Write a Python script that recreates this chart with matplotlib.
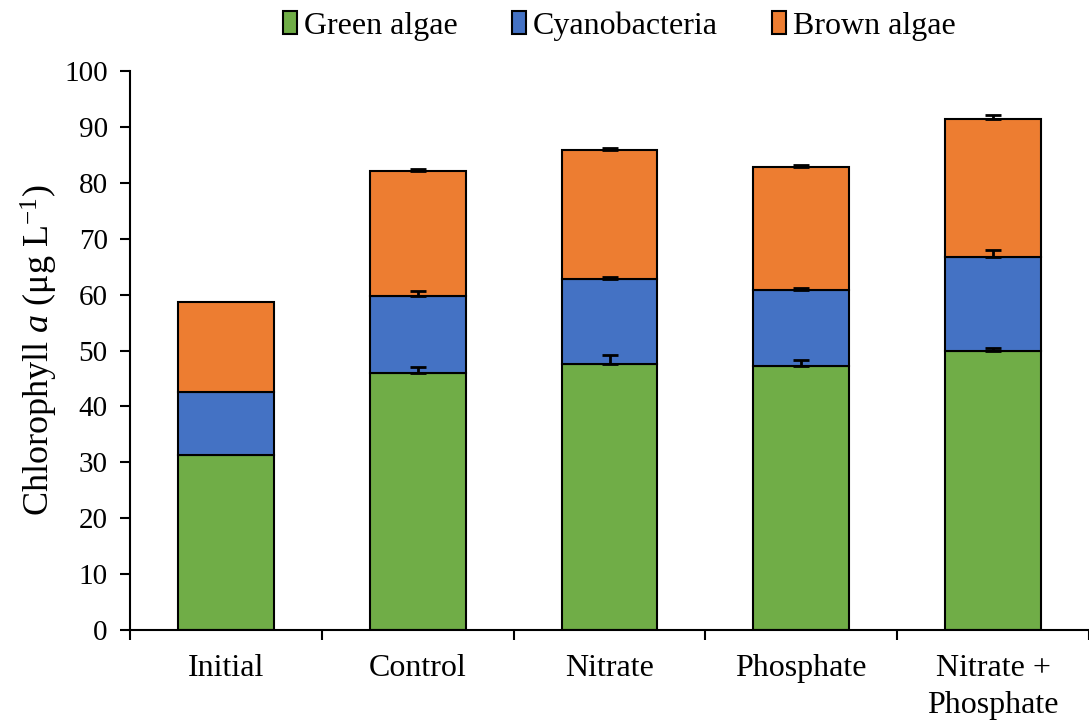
import numpy as np
import matplotlib
matplotlib.use("Agg")
import matplotlib.pyplot as plt
from matplotlib.ticker import FixedLocator

plt.rcParams['font.family'] = ['Liberation Serif', 'DejaVu Serif']
plt.rcParams['mathtext.fontset'] = 'custom'
plt.rcParams['mathtext.rm'] = 'Liberation Serif'
plt.rcParams['mathtext.it'] = 'Liberation Serif:italic'

# datos
categorias = ['Initial', 'Control', 'Nitrate', 'Phosphate', 'Nitrate +\nPhosphate']
green = [31.3, 46.0, 47.5, 47.2, 50.0]
cyano = [11.3, 13.8, 15.3, 13.7, 16.8]
brown = [16.1, 22.3, 23.0, 21.9, 24.7]
err_green = [0.0, 1.0, 1.7, 1.1, 0.4]
err_cyano = [0.0, 0.8, 0.4, 0.3, 1.2]
err_brown = [0.0, 0.3, 0.4, 0.3, 0.7]

col_green = '#70AD47'
col_cyano = '#4472C4'
col_brown = '#ED7D31'

x = np.arange(len(categorias))
w = 0.5
green = np.array(green)
cyano = np.array(cyano)
brown = np.array(brown)

fig = plt.figure(figsize=(10.89, 7.23), dpi=100)
ax = fig.add_axes([0.1194, 0.1286, 0.8806, 0.7732])

ax.bar(x, green, w, color=col_green, edgecolor='black', linewidth=1.5, label='Green algae', zorder=2)
ax.bar(x, cyano, w, bottom=green, color=col_cyano, edgecolor='black', linewidth=1.5, label='Cyanobacteria', zorder=2)
ax.bar(x, brown, w, bottom=green + cyano, color=col_brown, edgecolor='black', linewidth=1.5, label='Brown algae', zorder=2)

# barras de error (solo hacia arriba)
tops = [green, green + cyano, green + cyano + brown]
errs = [err_green, err_cyano, err_brown]
for t, e in zip(tops, errs):
    e = np.array(e)
    m = e > 0
    ax.errorbar(x[m], t[m], yerr=[np.zeros(m.sum()), e[m]], fmt='none',
                ecolor='black', elinewidth=2, capsize=6, capthick=2, zorder=5)

ax.set_xlim(-0.5, 4.5)
ax.set_ylim(0, 100)
ax.set_yticks(np.arange(0, 101, 10))
ax.set_xticks(x)
ax.set_xticklabels(categorias, linespacing=1.4)
ax.xaxis.set_minor_locator(FixedLocator(np.arange(-0.5, 4.6, 1)))
ax.tick_params(axis='x', which='major', length=0, labelsize=23, pad=17)
ax.tick_params(axis='x', which='minor', length=7, width=1.5, direction='out')
ax.tick_params(axis='y', labelsize=21, length=7, width=1.5, direction='out', pad=9)

for s in ['top', 'right']:
    ax.spines[s].set_visible(False)
for s in ['left', 'bottom']:
    ax.spines[s].set_linewidth(1.5)

ax.set_ylabel('Chlorophyll $\\it{a}$ (μg L$^{-1}$)', fontsize=26, labelpad=3)

ax.legend(loc='center', bbox_to_anchor=(0.51, 1.081), ncol=3, frameon=False,
          fontsize=23, handlelength=0.45, handleheight=0.75, handletextpad=0.2,
          columnspacing=1.7)

plt.savefig('out.png', dpi=100)
